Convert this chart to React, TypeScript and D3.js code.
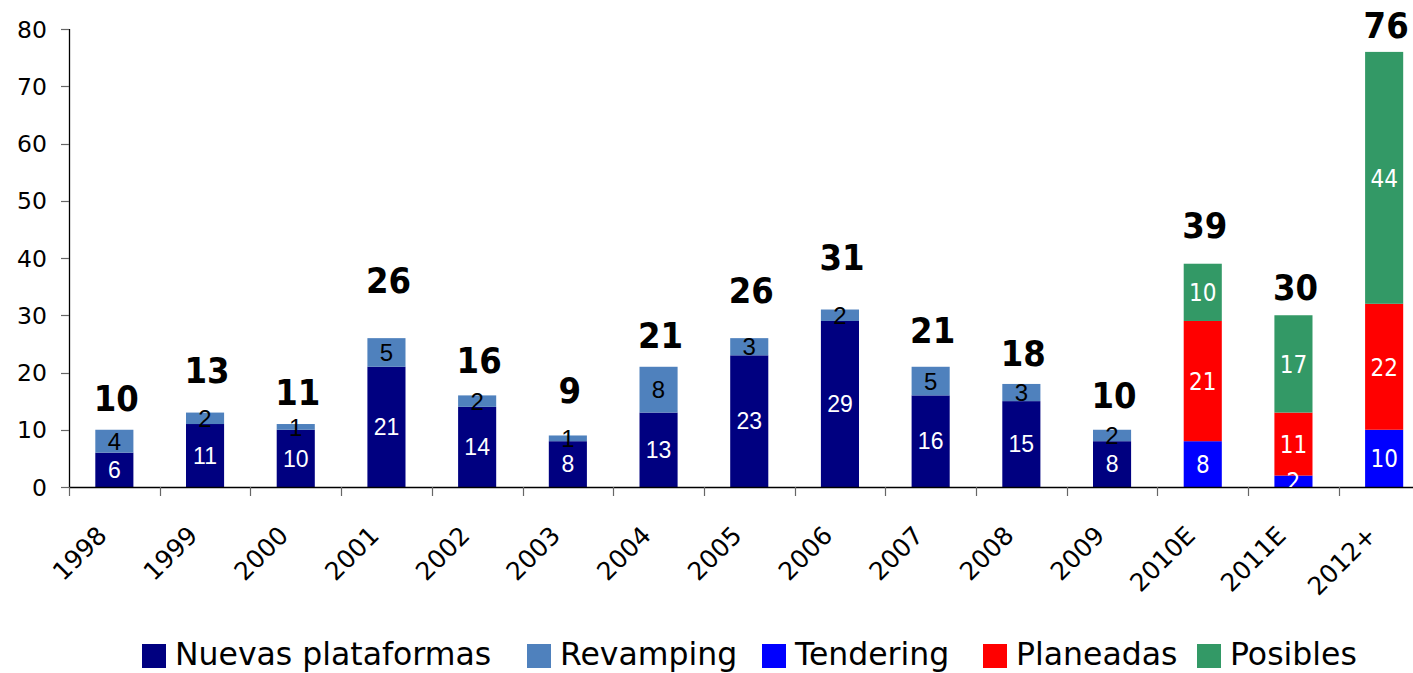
import React from 'react';
import * as d3 from 'd3';

const categories = ['1998', '1999', '2000', '2001', '2002', '2003', '2004', '2005', '2006', '2007', '2008', '2009', '2010E', '2011E', '2012+'];
const nuevas = [6, 11, 10, 21, 14, 8, 13, 23, 29, 16, 15, 8, 0, 0, 0];
const revamping = [4, 2, 1, 5, 2, 1, 8, 3, 2, 5, 3, 2, 0, 0, 0];
const tendering = [0, 0, 0, 0, 0, 0, 0, 0, 0, 0, 0, 0, 8, 2, 10];
const planeadas = [0, 0, 0, 0, 0, 0, 0, 0, 0, 0, 0, 0, 21, 11, 22];
const posibles = [0, 0, 0, 0, 0, 0, 0, 0, 0, 0, 0, 0, 10, 17, 44];
const totals = [10, 13, 11, 26, 16, 9, 21, 26, 31, 21, 18, 10, 39, 30, 76];
// value level at which the (hidden-series) total label sits
const totalLabelAt = [15.5, 20.4, 16.6, 36.2, 22.2, 16.9, 26.6, 34.4, 40.2, 27.4, 23.4, 16.1, 45.8, 34.9, 80.7];
const yTicks = [0, 10, 20, 30, 40, 50, 60, 70, 80];

const seriesNames = ['Nuevas plataformas', 'Revamping', 'Tendering', 'Planeadas', 'Posibles'];
const seriesValues = [nuevas, revamping, tendering, planeadas, posibles];
const seriesColors = ['#000080', '#4F81BD', '#0000FF', '#FF0000', '#339966'];

const W = 1413;
const H = 673;
const X0 = 69;
const STEP = 90.7;
const Y0 = 487;
const Y1 = 29;

export default function App() {
  const rows = categories.map((c, i) => {
    const r: any = { cat: c };
    seriesNames.forEach((s, k) => (r[s] = seriesValues[k][i]));
    return r;
  });
  const stack = d3.stack<any>().keys(seriesNames)(rows);

  const x = d3
    .scaleBand<string>()
    .domain(categories)
    .range([X0, X0 + STEP * categories.length])
    .paddingInner(0.58)
    .paddingOuter(0.29);
  const bw = x.bandwidth();
  const step = x.step();
  const y = d3.scaleLinear().domain([0, 80]).range([Y0, Y1]);

  const legendX = [142, 527, 762, 983, 1197];

  const labelStyle = (k: number) => {
    if (k === 0) return { fill: '#fff', font: '23px "Liberation Sans", Arial, sans-serif', cap: 0.72 };
    if (k === 1) return { fill: '#000', font: '24px "Liberation Sans", Arial, sans-serif', cap: 0.72 };
    return { fill: '#fff', font: '24px "DejaVu Sans Condensed", "DejaVu Sans", sans-serif', cap: 0.73 };
  };

  return (
    <svg
      width={W}
      height={H}
      style={{ position: 'absolute', left: 0, top: 0, background: '#fff' }}
      xmlns="http://www.w3.org/2000/svg"
    >
      <defs>
        <clipPath id="plotClip">
          <rect x={X0} y={0} width={W - X0} height={Y0} />
        </clipPath>
      </defs>
      {/* bars */}
      {stack.map((layer, k) => (
        <g key={layer.key} fill={seriesColors[k]}>
          {layer.map((d, i) =>
            d[1] - d[0] > 0 ? (
              <rect
                key={i}
                x={x(categories[i])!}
                y={y(d[1])}
                width={bw}
                height={y(d[0]) - y(d[1])}
              />
            ) : null
          )}
        </g>
      ))}
      {/* axes */}
      <g>
        <line x1={X0} x2={W} y1={Y0 + 0.5} y2={Y0 + 0.5} stroke="#000" strokeWidth={1.3} />
        <line x1={X0 + 0.5} x2={X0 + 0.5} y1={y(80)} y2={Y0} stroke="#000" strokeWidth={1.3} />
        {yTicks.map((t) => (
          <g key={t}>
            <line x1={X0 - 8} x2={X0} y1={Math.round(y(t)) + 0.5} y2={Math.round(y(t)) + 0.5} stroke="#666" strokeWidth={1.2} />
            <text
              x={47}
              y={y(t) + 8.5}
              textAnchor="end"
              style={{ font: '23.5px "DejaVu Sans", sans-serif' }}
              fill="#000"
            >
              {t}
            </text>
          </g>
        ))}
        {categories.map((c, i) => {
          const bx = x(c)! + bw / 2 - step / 2;
          return (
            <line key={'t' + c} x1={Math.round(bx) + 0.5} x2={Math.round(bx) + 0.5} y1={Y0} y2={Y0 + 9} stroke="#666" strokeWidth={1.2} />
          );
        })}
        {categories.map((c) => {
          const cx = x(c)! + bw / 2 - 6;
          const cy = 537;
          return (
            <text
              key={'l' + c}
              transform={`translate(${cx},${cy}) rotate(-45)`}
              textAnchor="end"
              style={{ font: '25px "DejaVu Sans", sans-serif' }}
              fill="#000"
            >
              {c}
            </text>
          );
        })}
      </g>
      {/* segment labels */}
      <g clipPath="url(#plotClip)">
        {stack.map((layer, k) => {
          const st = labelStyle(k);
          const fs = parseFloat(st.font);
          return (
            <g key={'sl' + layer.key}>
              {layer.map((d, i) =>
                d[1] - d[0] > 0 ? (
                  <text
                    key={i}
                    x={x(categories[i])! + bw / 2}
                    y={y((d[0] + d[1]) / 2) + (fs * st.cap) / 2}
                    textAnchor="middle"
                    fill={st.fill}
                    style={{ font: st.font }}
                  >
                    {d[1] - d[0]}
                  </text>
                ) : null
              )}
            </g>
          );
        })}
      </g>
      {/* totals */}
      <g>
        {totals.map((t, i) => (
          <text
            key={'tot' + i}
            x={x(categories[i])! + bw / 2 + 2}
            y={y(totalLabelAt[i]) + 13}
            textAnchor="middle"
            fill="#000"
            style={{ font: 'bold 36px "DejaVu Sans Condensed", "DejaVu Sans", sans-serif' }}
          >
            {t}
          </text>
        ))}
      </g>
      {/* legend */}
      <g>
        {seriesNames.map((s, k) => (
          <g key={'lg' + s} transform={`translate(${legendX[k]},644)`}>
            <rect x={0} y={0} width={24} height={24} fill={seriesColors[k]} />
            <text x={33} y={20.5} fill="#000" style={{ font: '31.5px "DejaVu Sans", sans-serif' }}>
              {s}
            </text>
          </g>
        ))}
      </g>
    </svg>
  );
}
